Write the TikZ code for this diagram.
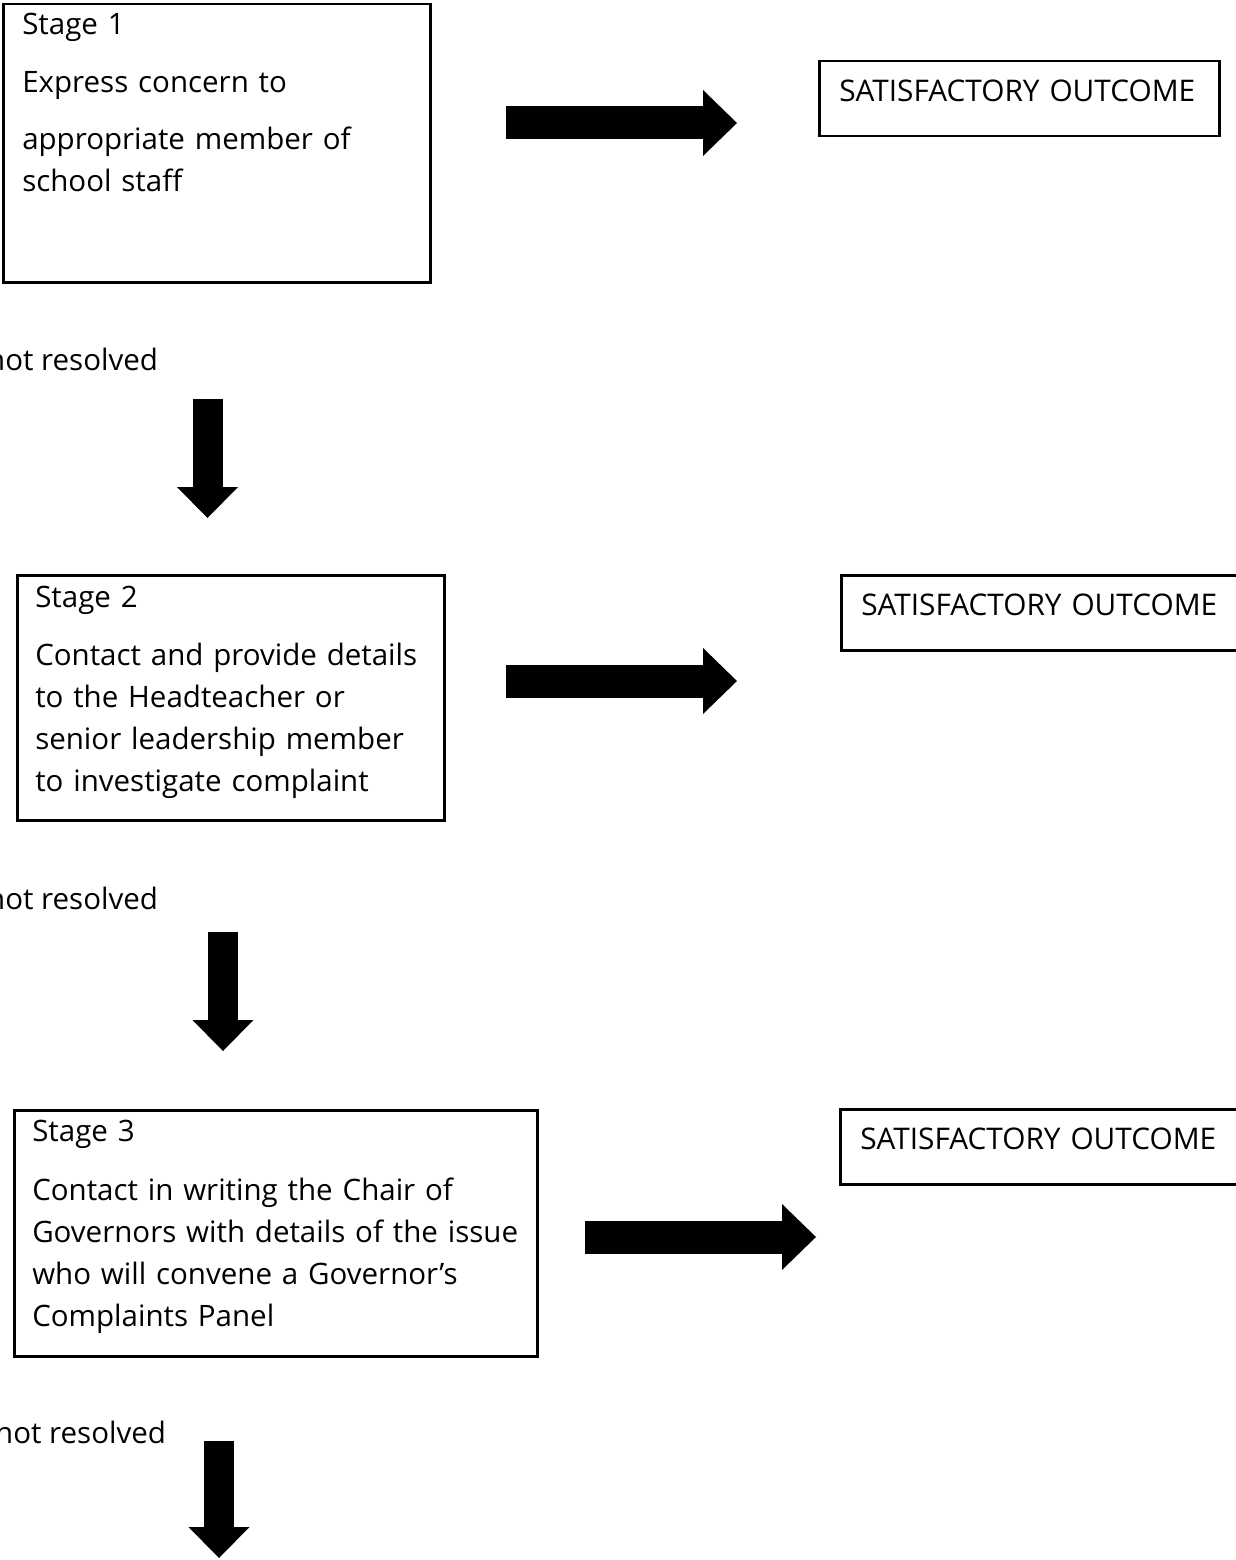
\documentclass[tikz,border=0pt]{standalone}
\usepackage{fontspec}
\setmainfont{Open Sans}
\usetikzlibrary{arrows.meta}

\begin{document}
\begin{tikzpicture}[x=1pt,y=-1pt]
						\tikzstyle{stagebox}=[draw=black,line width=2.5pt,anchor=north west,inner xsep=18pt,inner ysep=0pt,align=left,font=\fontsize{29.5}{42}\selectfont]
						\tikzstyle{outcome}=[draw=black,line width=2.5pt,anchor=north west,inner xsep=20pt,inner ysep=0pt,text width=360pt,text height=40pt,text depth=35pt,align=left,font=\fontsize{29.8}{42}\selectfont]
						\tikzstyle{note}=[anchor=base west,inner sep=0pt,font=\fontsize{29.5}{42}\selectfont]
						\tikzstyle{rightarrow}=[line width=33pt,-{Triangle[length=34pt,width=66pt,line width=0pt]}]
						\tikzstyle{downarrow}=[line width=30pt,-{Triangle[length=31pt,width=61pt,line width=0pt]}]
						\useasboundingbox (0,0) rectangle (1236,1560);
						\node[stagebox,inner xsep=19pt,text width=389pt,text height=30pt,text depth=248pt](stage1) at (2,3) {Stage 1\\[16pt]Express concern to\\[15pt]appropriate member of\\school staff};
						\node[stagebox,text width=391pt,text height=32pt,text depth=213pt](stage2) at (16,574) {Stage 2\\[16pt]Contact and provide details\\to the Headteacher or\\senior leadership member\\to investigate complaint};
						\node[stagebox,text width=487pt,text height=31pt,text depth=215pt](stage3) at (13,1109) {Stage 3\\[17pt]Contact in writing the Chair of\\\mbox{Governors with details of the issue}\\who will convene a Governor’s\\Complaints Panel};
						\node[outcome](out1) at (818,60) {SATISFACTORY OUTCOME};
						\node[outcome](out2) at (840,574) {SATISFACTORY OUTCOME};
						\node[outcome](out3) at (839,1108) {SATISFACTORY OUTCOME};
						\node[note](nr1) at (-13,370) {not resolved};
						\node[note](nr2) at (-13,909) {not resolved};
						\node[note](nr3) at (-5,1443) {not resolved};
						\coordinate (r1a) at (506,123);
						\coordinate (r1b) at (737,123);
						\coordinate (r2a) at (506,681);
						\coordinate (r2b) at (737,681);
						\coordinate (r3a) at (585,1237);
						\coordinate (r3b) at (816,1237);
						\coordinate (d1a) at (207.5,399);
						\coordinate (d1b) at (207.5,518);
						\coordinate (d2a) at (223,932);
						\coordinate (d2b) at (223,1051);
						\coordinate (d3a) at (219,1441);
						\coordinate (d3b) at (219,1558);
						\draw[rightarrow](r1a) -- (r1b);
						\draw[rightarrow](r2a) -- (r2b);
						\draw[rightarrow](r3a) -- (r3b);
						\draw[downarrow](d1a) -- (d1b);
						\draw[downarrow](d2a) -- (d2b);
						\draw[downarrow](d3a) -- (d3b);
					\end{tikzpicture}
\end{document}
